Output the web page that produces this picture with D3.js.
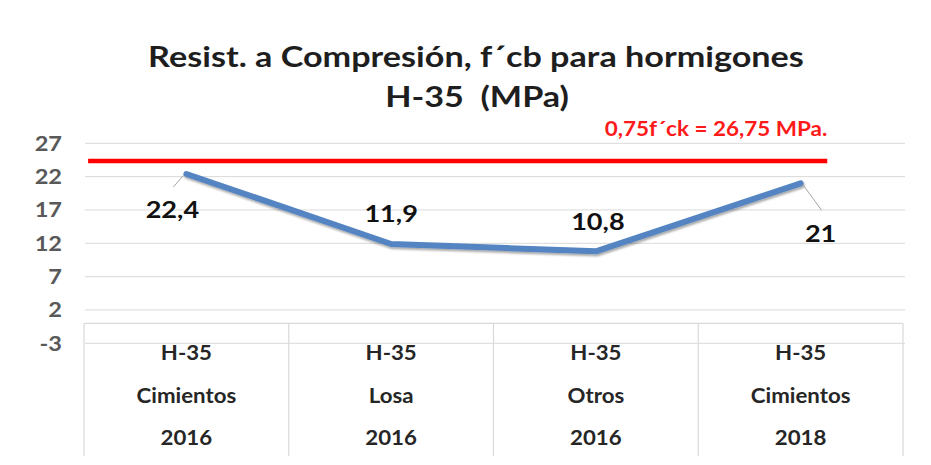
<!DOCTYPE html>
<html><head><meta charset="utf-8">
<script src="https://cdn.jsdelivr.net/npm/d3@7"></script>
<style>html,body{margin:0;padding:0;background:#fff}svg{display:block}</style>
</head><body>
<script>
// ---- data ----
const catLevel1 = ["H-35", "H-35", "H-35", "H-35"];
const catLevel2 = ["Cimientos", "Losa", "Otros", "Cimientos"];
const catLevel3 = ["2016", "2016", "2016", "2018"];
const values = [22.4, 11.9, 10.8, 21];
const valueLabels = ["22,4", "11,9", "10,8", "21"];
const yTicks = [-3, 2, 7, 12, 17, 22, 27];
const refValue = 24.35;
const refLabel = "0,75f\u00b4ck = 26,75 MPa.";
const titleLines = ["Resist. a Compresi\u00f3n, f\u00b4cb para hormigones", "H-35  (MPa)"];

// ---- layout ----
const W = 931, H = 465;
const FONT = "Lato, 'Open Sans', sans-serif";
const labelLayout = [
  {dx: -14, dy: 36, leader: [[-13, 13], [-3, 1.5]]},
  {dx: 0, dy: -30, leader: null},
  {dx: 2, dy: -30, leader: null},
  {dx: 20, dy: 50, leader: [[2, 1], [21, 27]]}
];
const refSpan = [0.02, 3.63]; // in band units

const svg = d3.select("body").append("svg").attr("width", W).attr("height", H);
const defs = svg.append("defs");
const sh = defs.append("filter").attr("id", "sh").attr("x", "-10%").attr("y", "-30%").attr("width", "130%").attr("height", "180%");
sh.append("feDropShadow").attr("dx", 1).attr("dy", 2).attr("stdDeviation", 1.3).attr("flood-color", "#000").attr("flood-opacity", 0.35);
const fb = defs.append("filter").attr("id", "fb");
fb.append("feGaussianBlur").attr("stdDeviation", 0.8);

// frame
svg.append("line").attr("x1", 11).attr("x2", 11).attr("y1", 8).attr("y2", H)
  .attr("stroke", "#b8b8b8").attr("stroke-width", 2.5).attr("filter", "url(#fb)");
svg.append("line").attr("x1", 11).attr("x2", W).attr("y1", 9).attr("y2", 9)
  .attr("stroke", "#d8d8d8").attr("stroke-width", 2).attr("filter", "url(#fb)");
svg.append("line").attr("x1", 11).attr("x2", W).attr("y1", 463).attr("y2", 463)
  .attr("stroke", "#ececec").attr("stroke-width", 1.5).attr("filter", "url(#fb)");

const x = d3.scaleBand().domain(d3.range(values.length)).range([84, 903]).padding(0);
const y = d3.scaleLinear().domain([-3, 27]).range([343.3, 143.3]);
const bw = x.bandwidth();
const cx = i => x(i) + bw / 2;

let SX = 1.0;
function txt(px, py, str, size, color, anchor, sx) {
  const s = sx || SX;
  return svg.append("text")
    .attr("transform", `translate(${px},${py}) scale(${s},1)`)
    .attr("text-anchor", anchor || "middle")
    .attr("dy", "0.36em")
    .style("font-family", FONT).style("font-weight", "bold")
    .style("font-size", size + "px").style("white-space", "pre")
    .attr("fill", color).text(str);
}

// title (calibrate horizontal stretch from title width)
const t1 = txt(476, 57, titleLines[0], 29, "#1e1e1e");
const w1 = t1.node().getComputedTextLength();
SX = 656 / w1;
t1.attr("transform", `translate(476,57) scale(${SX},1)`);
txt(477, 97, titleLines[1], 29, "#1e1e1e");

// gridlines
svg.append("g").selectAll("line").data(yTicks).join("line")
  .attr("x1", 85).attr("x2", 905)
  .attr("y1", d => y(d)).attr("y2", d => y(d))
  .attr("stroke", "#d9d9d9").attr("stroke-width", 1);

// y tick labels
yTicks.forEach(t => txt(62, y(t), String(t), 20, "#595959", "end"));

// category box
const boxBottom = 456;
svg.append("line").attr("x1", x.range()[0]).attr("x2", x.range()[1])
  .attr("y1", y(0)).attr("y2", y(0)).attr("stroke", "#d9d9d9").attr("stroke-width", 1.2);
const edges = d3.range(values.length + 1).map(i => x.range()[0] + i * bw);
svg.append("g").selectAll("line").data(edges).join("line")
  .attr("x1", d => d).attr("x2", d => d)
  .attr("y1", y(0)).attr("y2", boxBottom)
  .attr("stroke", "#d9d9d9").attr("stroke-width", 1.2);
const catSX = SX * 0.92;
catLevel1.forEach((s, i) => txt(cx(i), 352.5, s, 20.5, "#262626", "middle", catSX));
catLevel2.forEach((s, i) => txt(cx(i), 395.5, s, 20.5, "#262626", "middle", catSX));
catLevel3.forEach((s, i) => txt(cx(i), 437.5, s, 20.5, "#262626", "middle", catSX));

// reference line
svg.append("line")
  .attr("x1", x.range()[0] + refSpan[0] * bw).attr("x2", x.range()[0] + refSpan[1] * bw)
  .attr("y1", y(refValue)).attr("y2", y(refValue))
  .attr("stroke", "#ff0000").attr("stroke-width", 4.5);
txt(716, 129, refLabel, 20.5, "#ff1a1a", "middle", SX * 0.93);

// series line
const line = d3.line().x((d, i) => cx(i)).y(d => y(d));
svg.append("path").datum(values).attr("d", line)
  .attr("fill", "none").attr("stroke", "#5484c2").attr("stroke-width", 6)
  .attr("stroke-linejoin", "round").attr("stroke-linecap", "round")
  .attr("filter", "url(#sh)");

// leaders + data labels
values.forEach((v, i) => {
  const L = labelLayout[i];
  const px = cx(i), py = y(v);
  if (L.leader) {
    svg.append("line")
      .attr("x1", px + L.leader[0][0]).attr("y1", py + L.leader[0][1])
      .attr("x2", px + L.leader[1][0]).attr("y2", py + L.leader[1][1])
      .attr("stroke", "#a6a6a6").attr("stroke-width", 1);
  }
  txt(px + L.dx, py + L.dy, valueLabels[i], 23, "#111");
});
</script>
</body></html>
